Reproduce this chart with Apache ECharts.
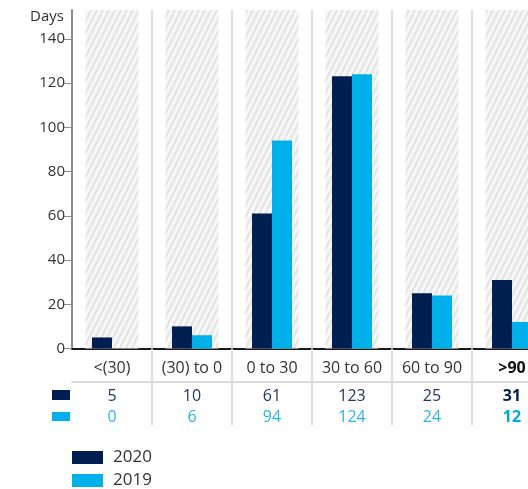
<!DOCTYPE html>
<html><head><meta charset="utf-8">
<script src="https://cdn.jsdelivr.net/npm/echarts@6/dist/echarts.min.js"></script>
<style>html,body{margin:0;padding:0;background:#fff}#c{width:528px;height:489px}</style>
</head><body><div id="c"></div>
<script>
const categories = ['<(30)', '(30) to 0', '0 to 30', '30 to 60', '60 to 90', '>90'];
const values2020 = [5, 10, 61, 123, 25, 31];
const values2019 = [0, 6, 94, 124, 24, 12];
const yTicks = [0, 20, 40, 60, 80, 100, 120, 140];
const seriesNames = ['2020', '2019'];
const yMax = 153;
const highlightIndex = 5;

const NAVY = '#001e4f', CYAN = '#00b0ea';
const FONT = '"Open Sans", sans-serif';

// hatch pattern
const tile = document.createElement('canvas');
tile.width = 6; tile.height = 12;
const g = tile.getContext('2d');
g.fillStyle = '#f8f8f8'; g.fillRect(0, 0, 6, 12);
g.strokeStyle = '#e5e5e5'; g.lineWidth = 2.4;
for (const dx of [-6, 0, 6]) { g.beginPath(); g.moveTo(dx, 12); g.lineTo(dx + 6, 0); g.stroke(); }

const legendText = { fontSize: 17, color: '#333', fontFamily: FONT, padding: [0, 0, 0, 5] };

const chart = echarts.init(document.getElementById('c'), null, { renderer: 'canvas' });
chart.setOption({
  animation: false,
  textStyle: { fontFamily: FONT },
  grid: { left: 72, width: 480, top: 10, height: 338.5, outerBoundsMode: 'none', containLabel: false },
  legend: [
    { left: 72, top: 449, padding: 0, itemWidth: 31, itemHeight: 13, itemGap: 10, data: [seriesNames[0]], icon: 'rect', textStyle: legendText },
    { left: 72, top: 472, padding: 0, itemWidth: 31, itemHeight: 13, itemGap: 10, data: [seriesNames[1]], icon: 'rect', textStyle: legendText }
  ],
  xAxis: [
    {
      type: 'category', data: categories, position: 'bottom',
      axisLine: { lineStyle: { color: '#1a1a1a', width: 2 } },
      axisTick: { show: true, length: 77, interval: (i) => i > 0, lineStyle: { color: '#dcdcdc', width: 2 } },
      splitLine: { show: true, lineStyle: { color: '#dcdcdc', width: 2 } },
      axisLabel: {
        margin: 6, interval: 0,
        formatter: (v, i) => {
          const b = i === highlightIndex ? 'B' : '';
          return '{c' + b + '|' + v + '}\n{a' + b + '|' + values2020[i] + '}\n{b' + b + '|' + values2019[i] + '}';
        },
        rich: {
          c: { fontSize: 16, color: '#333', lineHeight: 28, fontFamily: FONT },
          cB: { fontSize: 16, color: '#111', lineHeight: 28, fontWeight: 'bold', fontFamily: FONT },
          a: { fontSize: 16, color: '#263665', lineHeight: 28, fontFamily: FONT },
          aB: { fontSize: 16, color: NAVY, lineHeight: 28, fontWeight: 'bold', fontFamily: FONT },
          b: { fontSize: 16, color: '#2ab5ea', lineHeight: 14, fontFamily: FONT },
          bB: { fontSize: 16, color: '#00a8e4', lineHeight: 14, fontWeight: 'bold', fontFamily: FONT }
        }
      }
    },
    {
      type: 'category', data: categories, show: false
    },
    {
      type: 'category', data: categories, position: 'bottom', offset: 33,
      axisLine: { show: true, lineStyle: { color: '#dcdcdc', width: 2 } },
      axisTick: { show: false }, axisLabel: { show: false }, splitLine: { show: false }
    }
  ],
  yAxis: {
    type: 'value', min: 0, max: yMax, interval: 20,
    name: 'Days', nameLocation: 'end', nameGap: -7,
    nameTextStyle: { fontSize: 15, color: '#333', align: 'right', verticalAlign: 'middle', padding: [0, 8, 0, 0], fontFamily: FONT },
    axisLine: { show: true, lineStyle: { color: '#8c8c8c', width: 2 } },
    axisTick: { show: true, length: 8, customValues: yTicks, lineStyle: { color: '#8c8c8c', width: 1 } },
    axisLabel: { customValues: yTicks, fontSize: 15, color: '#333', margin: 7, fontFamily: FONT },
    splitLine: { show: false }
  },
  series: [
    {
      type: 'bar', xAxisIndex: 1, silent: true, barWidth: 53, z: 1,
      data: categories.map(() => yMax),
      itemStyle: { color: { image: tile, repeat: 'repeat' } },
      legendHoverLink: false
    },
    { name: seriesNames[0], type: 'bar', data: values2020, barWidth: 20, barGap: '0%', itemStyle: { color: NAVY }, z: 3 },
    { name: seriesNames[1], type: 'bar', data: values2019, barWidth: 20, barGap: '0%', itemStyle: { color: CYAN }, z: 3 }
  ],
  graphic: [
    { type: 'rect', shape: { x: 52, y: 390, width: 18, height: 10 }, style: { fill: NAVY } },
    { type: 'rect', shape: { x: 52, y: 412, width: 18, height: 9 }, style: { fill: CYAN } }
  ]
});
</script></body></html>
